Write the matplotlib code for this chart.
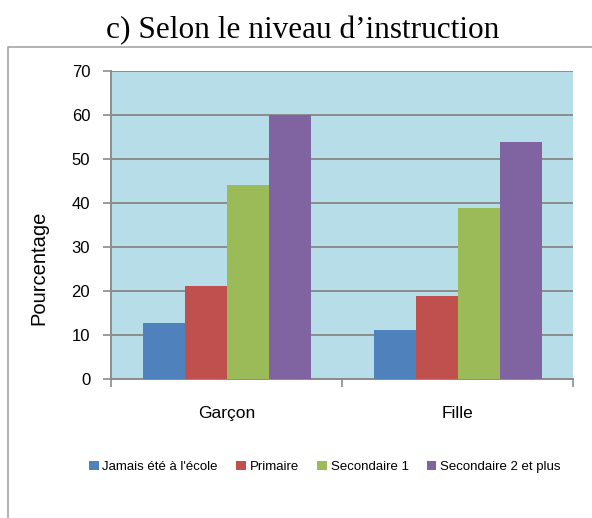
import matplotlib.pyplot as plt
from matplotlib.lines import Line2D

categories = ["Garçon", "Fille"]
series = ["Jamais été à l'école", "Primaire", "Secondaire 1", "Secondaire 2 et plus"]
jamais = [12.6, 11.1]
primaire = [21.0, 18.9]
secondaire1 = [44.2, 38.9]
secondaire2 = [60.0, 54.0]
colors = ["#4f81bd", "#c0504d", "#9bbb59", "#8064a2"]

fig = plt.figure(figsize=(5.92, 5.18), dpi=100)
ax = fig.add_axes([111 / 592, 1 - 378.7 / 518, 462 / 592, 307.4 / 518])
ax.set_facecolor("#b7dde8")

w = 1 / 5.5
x = range(len(categories))
for i, vals in enumerate([jamais, primaire, secondaire1, secondaire2]):
    ax.bar([c + (i - 1.5) * w for c in x], vals, width=w, color=colors[i],
           label=series[i], zorder=3)

ax.set_xlim(-0.5, 1.5)
ax.set_ylim(0, 70)
ax.set_yticks(range(0, 71, 10))
ax.yaxis.grid(True, color="#8c8c8c", linewidth=1.4, zorder=1)
ax.set_axisbelow(True)

ax.set_xticks(list(x))
ax.set_xticklabels(categories, fontsize=12.5, family="Liberation Sans")
ax.set_xticks([-0.5, 0.5, 1.5], minor=True)
ax.tick_params(axis="x", which="major", length=0, pad=20)
ax.tick_params(axis="x", which="minor", length=6, color="#8c8c8c", width=1.2)
ax.tick_params(axis="y", length=6, color="#8c8c8c", width=1.2, pad=9, labelsize=12)
for lab in ax.get_yticklabels():
    lab.set_family("Liberation Sans")

for s in ["top", "right"]:
    ax.spines[s].set_visible(False)
for s in ["left", "bottom"]:
    ax.spines[s].set_color("#8c8c8c")
    ax.spines[s].set_linewidth(1.4)

fig.text(303 / 592, 1 - 31 / 518, "c) Selon le niveau d\u2019instruction",
         ha="center", va="center", fontsize=22.5, family="Liberation Serif")
fig.text(39 / 592, 1 - 268 / 518, "Pourcentage", rotation=90, ha="center",
         va="center", fontsize=14.5, family="Liberation Sans")

fig.legend(loc="center", bbox_to_anchor=(325 / 592, 1 - 467 / 518), ncol=4,
           frameon=False, prop={"family": "Liberation Sans", "size": 9.5},
           handlelength=0.7, handleheight=0.7, handletextpad=0.3,
           columnspacing=1.4)

fig.add_artist(Line2D([8 / 592, 8 / 592, 1], [0, 1 - 47 / 518, 1 - 47 / 518],
                      transform=fig.transFigure, color="#a6a6a6", linewidth=1.2))

fig.savefig("out.png", dpi=100)
